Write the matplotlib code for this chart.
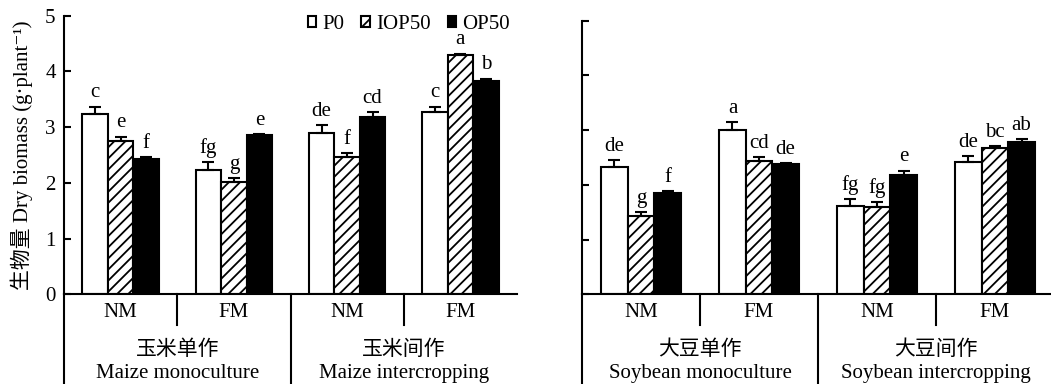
import matplotlib
matplotlib.use('Agg')
import matplotlib.pyplot as plt
import matplotlib.transforms as mtransforms
from matplotlib.patches import Patch
import numpy as np

plt.rcParams['font.family'] = ['Liberation Serif', 'Noto Sans CJK SC', 'DejaVu Serif']
plt.rcParams['hatch.linewidth'] = 1.3

# ======== data ================================
treatments = ['P0', 'IOP50', 'OP50']
sub_labels = ['NM', 'FM', 'NM', 'FM']
maize_groups = ['玉米单作\nMaize monoculture', '玉米间作\nMaize intercropping']
soy_groups = ['大豆单作\nSoybean monoculture', '大豆间作\nSoybean intercropping']

maize_p0 = [3.23, 2.23, 2.90, 3.27]
maize_iop50 = [2.75, 2.02, 2.47, 4.29]
maize_op50 = [2.43, 2.86, 3.18, 3.83]
maize_p0_err = [0.14, 0.14, 0.13, 0.10]
maize_iop50_err = [0.08, 0.07, 0.06, 0.03]
maize_op50_err = [0.03, 0.01, 0.09, 0.04]
maize_p0_sig = ['c', 'fg', 'de', 'c']
maize_iop50_sig = ['e', 'g', 'f', 'a']
maize_op50_sig = ['f', 'e', 'cd', 'b']

soy_p0 = [2.33, 3.00, 1.61, 2.41]
soy_iop50 = [1.44, 2.44, 1.60, 2.67]
soy_op50 = [1.86, 2.39, 2.18, 2.79]
soy_p0_err = [0.13, 0.14, 0.13, 0.11]
soy_iop50_err = [0.06, 0.07, 0.09, 0.04]
soy_op50_err = [0.02, 0.01, 0.08, 0.05]
soy_p0_sig = ['de', 'a', 'fg', 'de']
soy_iop50_sig = ['g', 'cd', 'fg', 'bc']
soy_op50_sig = ['f', 'de', 'e', 'ab']

FS = 15
W = 0.225
LW = 1.5
styles = [dict(facecolor='white', hatch=None),
          dict(facecolor='white', hatch='///'),
          dict(facecolor='black', hatch=None)]

fig = plt.figure(figsize=(10.51, 3.84), dpi=100)
ax1 = fig.add_axes([64 / 1051, 89.7 / 384, 453 / 1051, 278.6 / 384])
ax2 = fig.add_axes([582 / 1051, 89.7 / 384, 472 / 1051, 273.6 / 384])


def draw_panel(ax, vals, errs, sigs, groups, show_labels):
    x = np.arange(4) + 0.5
    for k in range(3):
        xk = x + (k - 1) * W
        ax.bar(xk, vals[k], W, edgecolor='black', linewidth=LW,
               zorder=2, **styles[k])
        ax.errorbar(xk, vals[k], yerr=[np.zeros(4), errs[k]], fmt='none',
                    ecolor='black', elinewidth=LW, capsize=4, capthick=LW,
                    zorder=3)
        for i in range(4):
            ax.annotate(sigs[k][i], (xk[i], vals[k][i] + errs[k][i]),
                        xytext=(0, 3), textcoords='offset points',
                        ha='center', va='bottom', fontsize=FS)

    ax.set_xlim(0, 4)
    ax.set_ylim(0, 5)
    ax.set_xticks([])
    ax.set_yticks(range(6))
    ax.tick_params(axis='y', direction='in', length=5, width=LW,
                   labelsize=FS, pad=6)
    if not show_labels:
        ax.set_yticklabels([])
    for s in ['top', 'right']:
        ax.spines[s].set_visible(False)
    for s in ['left', 'bottom']:
        ax.spines[s].set_linewidth(LW)

    # category table below the axis
    tr = mtransforms.blended_transform_factory(ax.transData, fig.transFigure)
    y0 = 89.7 / 384
    ax.plot([0, 0], [0, y0], color='black', lw=LW, transform=tr, clip_on=False)
    ax.plot([2, 2], [0, y0], color='black', lw=LW, transform=tr, clip_on=False)
    for xs in [1, 3]:
        ax.plot([xs, xs], [59 / 384, y0], color='black', lw=LW,
                transform=tr, clip_on=False)
    for i in range(4):
        ax.text(x[i], 67 / 384, sub_labels[i], transform=tr, ha='center',
                va='baseline', fontsize=FS)
    for j in range(2):
        cn, en = groups[j].split('\n')
        ax.text(2 * j + 1, 34 / 384, cn, transform=tr, ha='center',
                va='center', fontsize=FS)
        ax.text(2 * j + 1, 6 / 384, en, transform=tr, ha='center',
                va='baseline', fontsize=FS)


draw_panel(ax1, [maize_p0, maize_iop50, maize_op50],
           [maize_p0_err, maize_iop50_err, maize_op50_err],
           [maize_p0_sig, maize_iop50_sig, maize_op50_sig], maize_groups, True)
draw_panel(ax2, [soy_p0, soy_iop50, soy_op50],
           [soy_p0_err, soy_iop50_err, soy_op50_err],
           [soy_p0_sig, soy_iop50_sig, soy_op50_sig], soy_groups, False)

fig.text(22 / 1051, 0.596, '生物量 Dry biomass (g·plant⁻¹)', rotation=90,
         ha='center', va='center', fontsize=FS)

handles = [Patch(edgecolor='black', linewidth=LW, label=t, **styles[k])
           for k, t in enumerate(treatments)]
ax1.legend(handles=handles, loc='center right', bbox_to_anchor=(0.985, 0.97),
           ncol=3, frameon=False, fontsize=FS, handlelength=0.42,
           handleheight=0.42, handletextpad=0.3, columnspacing=0.8,
           borderpad=0, borderaxespad=0)

fig.savefig('out.png', dpi=100)
